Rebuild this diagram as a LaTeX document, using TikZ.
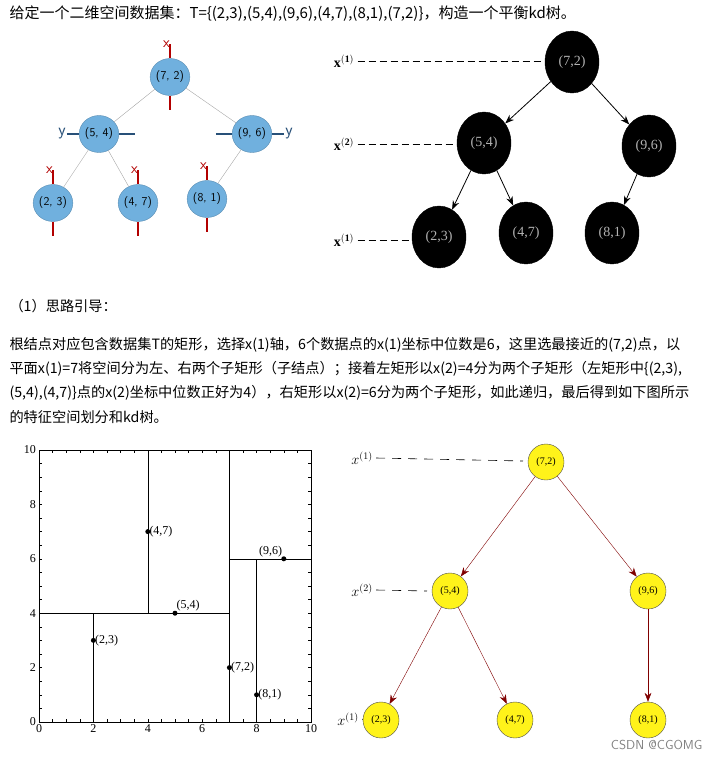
\documentclass[tikz,border=0pt]{standalone}
\usepackage{fontspec}
\setmainfont{Liberation Serif}
\newfontfamily\cjk{Noto Sans CJK SC}
\usetikzlibrary{calc,positioning,arrows.meta,shapes.geometric}
\definecolor{nodeblue}{RGB}{112,176,222}
\definecolor{lineblue}{RGB}{40,80,120}

\begin{document}
\begin{tikzpicture}[
  x=1pt, y=-1pt,
  blue node/.style={
    ellipse, fill=nodeblue, draw=nodeblue!80!black,
    minimum width=32pt, minimum height=37pt, inner sep=0pt,
    font=\sffamily\fontsize{12}{14}\selectfont
  },
  black node/.style={
    ellipse, fill=black, draw=black,
    minimum width=54pt, minimum height=62pt, inner sep=0pt,
    text=gray!60, font=\fontsize{14}{16}\selectfont
  },
  yellow node/.style={
    circle, fill=yellow!90!white, draw=black!70,
    minimum size=36pt, inner sep=0pt, font=\fontsize{10}{12}\selectfont
  },
  blue edge/.style={gray!70, thin},
  black edge/.style={black, thick, -{Stealth[length=9pt]}},
  yellow edge/.style={red!50!black, -{Stealth[length=9pt]}},
  split/.style={red!70!black, line width=1.5pt},
  split y/.style={lineblue, line width=1.5pt},
  level line/.style={dash pattern=on 7pt off 4pt, thick},
  para/.style={anchor=west, font=\cjk\fontsize{14.2}{17}\selectfont}
  ]
\useasboundingbox (0,0) rectangle (712,761);
% Text
\node [para, font=\cjk\fontsize{15}{18}\selectfont] (title) at (6,14) {给定一个二维空间数据集：T=\{(2,3),(5,4),(9,6),(4,7),(8,1),(7,2)\}，构造一个平衡kd树。};
\node [para] (hint) at (6,306) {（1）思路引导：};
\node [para] (line a) at (6,345) {根结点对应包含数据集T的矩形，选择x(1)轴，6个数据点的x(1)坐标中位数是6，这里选最接近的(7,2)点，以};
\node [para] (line b) at (6,369) {平面x(1)=7将空间分为左、右两个子矩形（子结点）；接着左矩形以x(2)=4分为两个子矩形（左矩形中\{(2,3),};
\node [para] (line c) at (6,393) {(5,4),(4,7)\}点的x(2)坐标中位数正好为4），右矩形以x(2)=6分为两个子矩形，如此递归，最后得到如下图所示};
\node [para] (line d) at (6,417) {的特征空间划分和kd树。};
% Blue tree
\node [blue node] (b72) at (170,77) {(7, 2)};
\node [blue node] (b54) at (99,134) {(5, 4)};
\node [blue node] (b96) at (252,134) {(9, 6)};
\node [blue node] (b23) at (53,203) {(2, 3)};
\node [blue node] (b47) at (138,203) {(4, 7)};
\node [blue node] (b81) at (207,199) {(8, 1)};
\draw [blue edge] (b72) -- (b54);
\draw [blue edge] (b72) -- (b96);
\draw [blue edge] (b54) -- (b23);
\draw [blue edge] (b54) -- (b47);
\draw [blue edge] (b96) -- (b81);
\foreach \n in {b72,b23,b47,b81} {
  \draw [split] ($(\n.north)+(0,-14)$) -- (\n.north);
  \draw [split] (\n.south) -- ($(\n.south)+(0,14)$);
  \node [red!70!black, font=\sffamily\fontsize{15}{16}\selectfont, anchor=south east, inner sep=1pt] (\n x) at ($(\n.north)+(1,-10)$) {x};
}
\draw [split y] ($(b54.west)+(-12,0)$) -- (b54.west);
\draw [split y] (b54.east) -- ($(b54.east)+(16,0)$);
\draw [split y] ($(b96.west)+(-16,0)$) -- (b96.west);
\draw [split y] (b96.east) -- ($(b96.east)+(12,0)$);
\node [lineblue, font=\sffamily\fontsize{17}{18}\selectfont, anchor=east, inner sep=1pt] (b54y) at ($(b54.west)+(-12,0)$) {y};
\node [lineblue, font=\sffamily\fontsize{17}{18}\selectfont, anchor=west, inner sep=1pt] (b96y) at ($(b96.east)+(12,0)$) {y};
% Black tree
\node [black node] (k72) at (572,62) {(7,2)};
\node [black node] (k54) at (484,143) {(5,4)};
\node [black node] (k96) at (649,146) {(9,6)};
\node [black node] (k23) at (439,237) {(2,3)};
\node [black node] (k47) at (526,233) {(4,7)};
\node [black node] (k81) at (612,233) {(8,1)};
\draw [black edge] (k72) -- (k54);
\draw [black edge] (k72) -- (k96);
\draw [black edge] (k54) -- (k23);
\draw [black edge] (k54) -- (k47);
\draw [black edge] (k96) -- (k81);
\node [font=\fontsize{14}{16}\selectfont] (kl1) at (344,61) {$\mathbf{x}^{\mathbf{(1)}}$};
\node [font=\fontsize{14}{16}\selectfont] (kl2) at (344,144) {$\mathbf{x}^{\mathbf{(2)}}$};
\node [font=\fontsize{14}{16}\selectfont] (kl3) at (344,240) {$\mathbf{x}^{\mathbf{(1)}}$};
\draw [level line] (kl1.east) -- (543,61);
\draw [level line] (kl2.east) -- (457,144);
\draw [level line] (kl3.east) -- (410,240);
% Partition plot
\begin{scope}[shift={(39,722)}, x=27.2pt, y=-27.2pt]
  \draw [thin] (0,0) rectangle (10,-10);
  \foreach \t in {0,0.5,...,10} {
    \draw (\t,0) -- (\t,-0.12);
    \draw (\t,-10) -- (\t,-9.88);
    \draw (0,-\t) -- (0.12,-\t);
    \draw (10,-\t) -- (9.88,-\t);
  }
  \foreach \t in {0,2,...,10} {
    \node [font=\fontsize{12}{14}\selectfont, below, inner sep=2pt] (xt\t) at (\t,0) {\t};
    \node [font=\fontsize{12}{14}\selectfont, left, inner sep=3pt] (yt\t) at (0,-\t) {\t};
  }
  \draw (7,0) -- (7,-10);
  \draw (0,-4) -- (7,-4);
  \draw (2,0) -- (2,-4);
  \draw (4,-4) -- (4,-10);
  \draw (7,-6) -- (10,-6);
  \draw (8,0) -- (8,-6);
  \foreach \px/\py/\pos in {2/3/right, 5/4/{above right}, 9/6/{above left}, 4/7/right, 8/1/right, 7/2/right} {
    \fill (\px,-\py) circle (2.5pt);
    \node [font=\fontsize{12}{14}\selectfont, \pos, inner sep=1.5pt] (p\px\py) at (\px,-\py) {(\px,\py)};
  }
\end{scope}
% Yellow tree
\node [yellow node] (y72) at (546,462) {(7,2)};
\node [yellow node] (y54) at (450,591) {(5,4)};
\node [yellow node] (y96) at (648,591) {(9,6)};
\node [yellow node] (y23) at (381,720) {(2,3)};
\node [yellow node] (y47) at (515,720) {(4,7)};
\node [yellow node] (y81) at (648,720) {(8,1)};
\draw [yellow edge] (y72) -- (y54);
\draw [yellow edge] (y72) -- (y96);
\draw [yellow edge] (y54) -- (y23);
\draw [yellow edge] (y54) -- (y47);
\draw [yellow edge] (y96) -- (y81);
\node [font=\fontsize{14}{16}\selectfont] (yl1) at (362,458) {$x^{(1)}$};
\node [font=\fontsize{14}{16}\selectfont] (yl2) at (362,590) {$x^{(2)}$};
\node [font=\fontsize{14}{16}\selectfont] (yl3) at (348,719) {$x^{(1)}$};
\draw [level line, semithick, dash pattern=on 9pt off 7pt] (yl1.east) -- (523,461);
\draw [level line, semithick, dash pattern=on 9pt off 7pt] (yl2.east) -- (427,591);
\draw (yl3.east) -- (y23.west);
\node [gray, font=\sffamily\fontsize{13}{14}\selectfont, anchor=east] (mark) at (706,745) {CSDN @CGOMG};
\end{tikzpicture}
\end{document}
